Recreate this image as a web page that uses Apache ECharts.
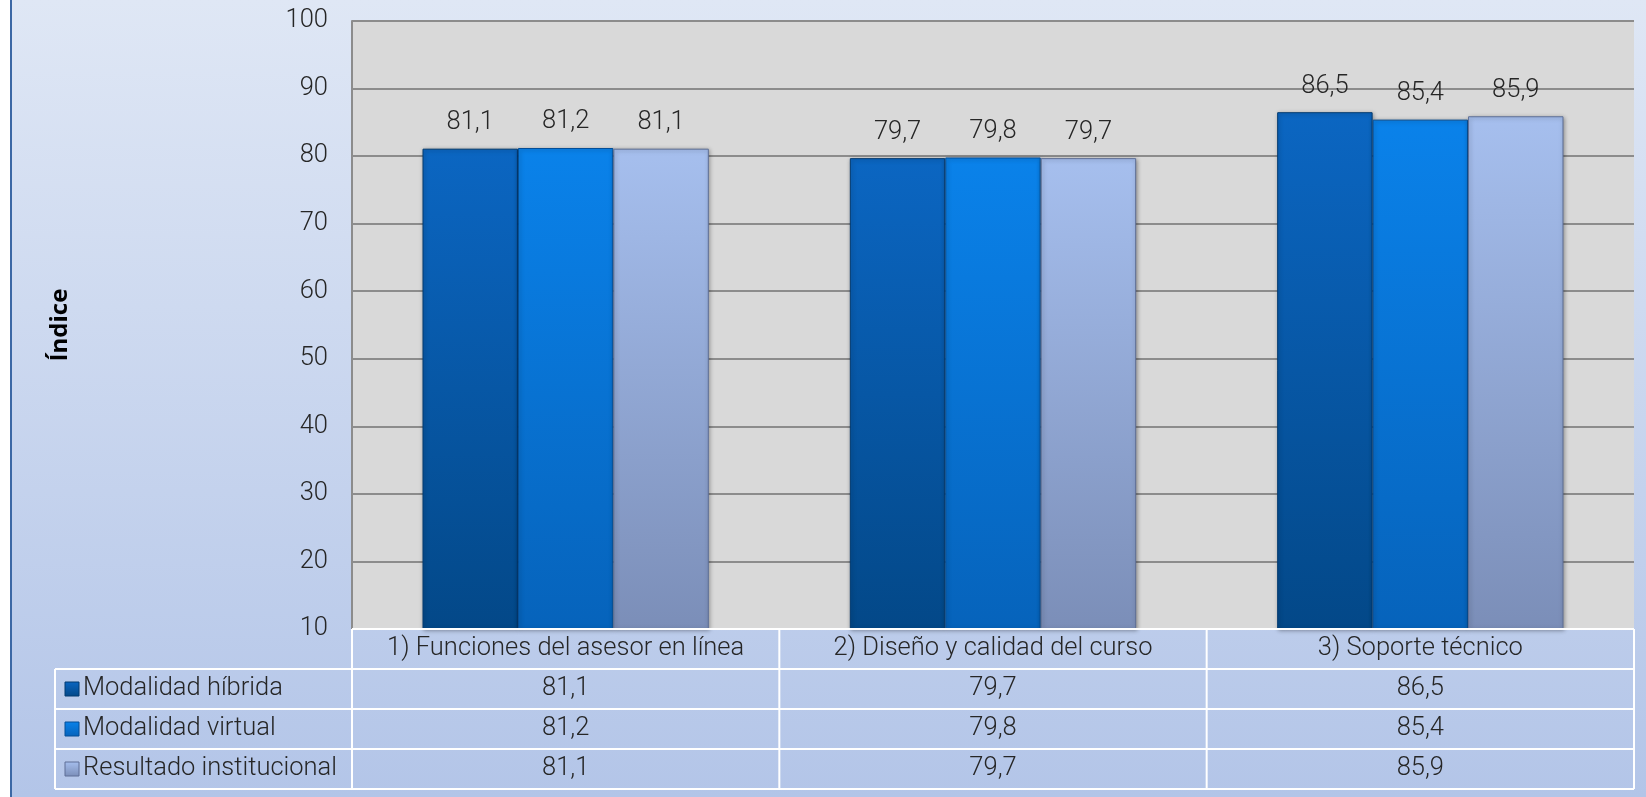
<!DOCTYPE html>
<html><head><meta charset="utf-8">
<script src="https://cdn.jsdelivr.net/npm/echarts@6/dist/echarts.min.js"></script>
<style>html,body{margin:0;padding:0;background:#fff}#c{width:1646px;height:797px}</style>
</head><body><div id="c"></div>
<script>
const categories = ['1) Funciones del asesor en línea', '2) Diseño y calidad del curso', '3) Soporte técnico'];
const seriesNames = ['Modalidad híbrida', 'Modalidad virtual', 'Resultado institucional'];
const hibrida = [81.1, 79.7, 86.5];
const virtual = [81.2, 79.8, 85.4];
const institucional = [81.1, 79.7, 85.9];
const yMin = 10, yMax = 100, yStep = 10;

const G = {left: 352, top: 21, right: 1634, bottom: 629};
const rowH = 40, tableLeft = 55;
const FONT = 'Roboto';
const FS = 25.5;
const txt = '#262626';
const fmt = v => String(v).replace('.', ',');

const colors = [
  ['#0b66c2', '#034888', '#023a70'],
  ['#0a82ea', '#0663bb', '#044e97'],
  ['#a6bfee', '#7b8eb8', '#5e6f96']
];
function grad(c) {
  return new echarts.graphic.LinearGradient(0, 0, 0, 1, [
    {offset: 0, color: c[0]}, {offset: 1, color: c[1]}
  ]);
}
const dataSets = [hibrida, virtual, institucional];

const chart = echarts.init(document.getElementById('c'));
const series = dataSets.map((d, i) => ({
  name: seriesNames[i], type: 'bar', data: d,
  barGap: '0%', barCategoryGap: '33%',
  itemStyle: {color: grad(colors[i]), borderColor: colors[i][2], borderWidth: 1,
    shadowColor: 'rgba(0,0,0,0.35)', shadowBlur: 4, shadowOffsetX: 1, shadowOffsetY: 1},
  label: {show: true, position: 'top', distance: 13, formatter: p => fmt(p.value),
    fontFamily: FONT, fontWeight: 300, fontSize: FS, color: txt}
}));

const graphics = [];
const colW = (G.right - G.left) / categories.length;
const lineStyle = {stroke: '#ffffff', lineWidth: 2};
const rows = dataSets.length;
const tBottom = G.bottom + rowH * (rows + 1);
graphics.push({type: 'line', shape: {x1: G.left, y1: G.bottom, x2: G.right, y2: G.bottom}, style: lineStyle, z: 10});
for (let r = 1; r <= rows + 1; r++) {
  const y = G.bottom + r * rowH;
  graphics.push({type: 'line', shape: {x1: tableLeft, y1: y, x2: G.right, y2: y}, style: lineStyle, z: 10});
}
graphics.push({type: 'line', shape: {x1: tableLeft, y1: G.bottom + rowH, x2: tableLeft, y2: tBottom}, style: lineStyle, z: 10});
for (let c = 0; c <= categories.length; c++) {
  const x = G.left + c * colW;
  graphics.push({type: 'line', shape: {x1: x, y1: G.bottom, x2: x, y2: tBottom}, style: lineStyle, z: 10});
}
categories.forEach((cat, c) => {
  graphics.push({type: 'text', x: G.left + (c + 0.5) * colW, y: G.bottom + rowH / 2,
    style: {text: cat, fill: txt, font: `300 ${FS}px ${FONT}`, align: 'center', verticalAlign: 'middle'}, z: 11});
});
dataSets.forEach((d, r) => {
  const yc = G.bottom + rowH * (r + 1) + rowH / 2;
  graphics.push({type: 'rect', shape: {x: 65, y: yc - 7, width: 14, height: 14},
    style: {fill: grad(colors[r]), stroke: colors[r][2], lineWidth: 1}, z: 11});
  graphics.push({type: 'text', x: 83, y: yc,
    style: {text: seriesNames[r], fill: txt, font: `300 ${FS}px ${FONT}`, align: 'left', verticalAlign: 'middle'}, z: 11});
  d.forEach((v, c) => {
    graphics.push({type: 'text', x: G.left + (c + 0.5) * colW, y: yc,
      style: {text: fmt(v), fill: txt, font: `300 ${FS}px ${FONT}`, align: 'center', verticalAlign: 'middle'}, z: 11});
  });
});
graphics.push({type: 'rect', shape: {x: 0, y: 0, width: 10, height: 797}, style: {fill: '#ffffff'}, z: 12});
graphics.push({type: 'line', shape: {x1: 11, y1: 0, x2: 11, y2: 797}, style: {stroke: '#3c68a5', lineWidth: 2}, z: 12});

chart.setOption({
  backgroundColor: new echarts.graphic.LinearGradient(0, 0, 0, 1, [
    {offset: 0, color: '#dfe7f5'}, {offset: 1, color: '#b3c5e8'}
  ]),
  animation: false,
  grid: {left: G.left, top: G.top, width: G.right - G.left, height: G.bottom - G.top,
    show: true, backgroundColor: '#d9d9d9', borderWidth: 0},
  xAxis: {type: 'category', data: categories, axisLine: {show: false}, axisTick: {show: false}, axisLabel: {show: false}},
  yAxis: {type: 'value', min: yMin, max: yMax, interval: yStep,
    name: 'Índice', nameLocation: 'middle', nameRotate: 90, nameGap: 280,
    nameTextStyle: {fontFamily: 'Open Sans', fontWeight: 'bold', fontSize: 24, color: '#000'},
    axisLine: {show: true, lineStyle: {color: '#8c8c8c', width: 2}},
    axisTick: {show: false},
    axisLabel: {fontFamily: FONT, fontWeight: 300, fontSize: FS, color: txt, margin: 24},
    splitLine: {lineStyle: {color: '#8c8c8c', width: 2}}},
  series: series,
  graphic: graphics
});
</script></body></html>
